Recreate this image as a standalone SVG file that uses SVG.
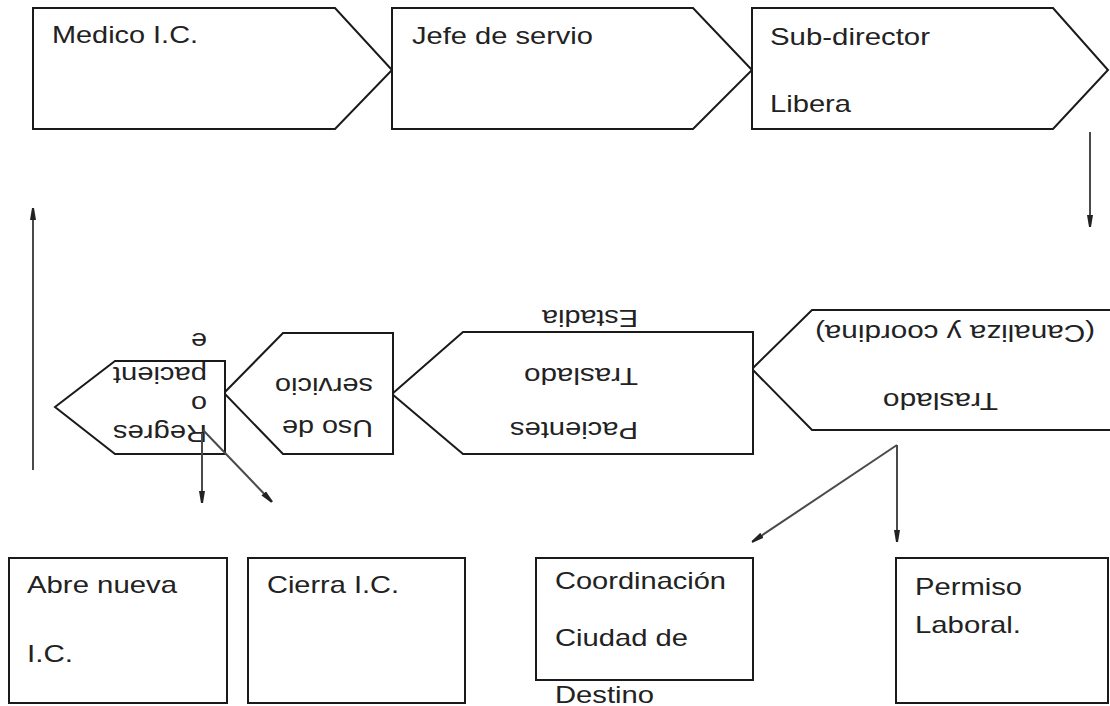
<svg xmlns="http://www.w3.org/2000/svg" width="1110" height="706" viewBox="0 0 1110 706">
  <style>
    .shape { fill: #ffffff; stroke: #1a1a1a; stroke-width: 2; stroke-linejoin: miter; }
    .lbl { font-family: "Liberation Sans", Arial, sans-serif; font-size: 24px; fill: #222222; }
    .conn { fill: none; stroke: #4a4a4a; stroke-width: 2; }
  </style>
  <defs>
    <marker id="head" markerUnits="userSpaceOnUse" markerWidth="12" markerHeight="7" refX="12" refY="3.5" orient="auto">
      <path d="M0,0.5 L12,2.5 L12,4.5 L0,6.5 z" fill="#222222"/>
    </marker>
  </defs>

  <rect x="0" y="0" width="1110" height="706" fill="#ffffff"/>

  <!-- top row: pentagon steps pointing right -->
  <g id="medico">
    <polygon class="shape" points="33,8 335,8 392,70 335,129 33,129"/>
    <text class="lbl" x="52" y="43" textLength="146" lengthAdjust="spacingAndGlyphs">Medico I.C.</text>
  </g>
  <g id="jefe">
    <polygon class="shape" points="392,8 693,8 752,70 693,129 392,129"/>
    <text class="lbl" x="412" y="44" textLength="181" lengthAdjust="spacingAndGlyphs">Jefe de servio</text>
  </g>
  <g id="subdirector">
    <polygon class="shape" points="752,8 1053,8 1108,70 1053,129 752,129"/>
    <text class="lbl" x="770" y="45" textLength="160" lengthAdjust="spacingAndGlyphs">Sub-director</text>
    <text class="lbl" x="770" y="112" textLength="81" lengthAdjust="spacingAndGlyphs">Libera</text>
  </g>

  <!-- middle row: steps pointing left, labels upside down -->
  <g id="traslado">
    <polygon class="shape" points="752,369 812,310 1116,310 1116,430 812,430"/>
    <text class="lbl" x="1095" y="325" transform="rotate(180 1095 325)" textLength="280" lengthAdjust="spacingAndGlyphs">(Canaliza y coordina)</text>
    <text class="lbl" x="998" y="393" transform="rotate(180 998 393)" textLength="115" lengthAdjust="spacingAndGlyphs">Traslado</text>
  </g>
  <g id="pacientes">
    <polygon class="shape" points="392,394 463,332 753,332 753,454 463,454"/>
    <text class="lbl" x="638" y="310" transform="rotate(180 638 310)" textLength="96" lengthAdjust="spacingAndGlyphs">Estadia</text>
    <text class="lbl" x="638" y="368" transform="rotate(180 638 368)" textLength="114" lengthAdjust="spacingAndGlyphs">Traslado</text>
    <text class="lbl" x="638" y="422" transform="rotate(180 638 422)" textLength="128" lengthAdjust="spacingAndGlyphs">Pacientes</text>
  </g>
  <g id="uso">
    <polygon class="shape" points="224,393 283,333 393,333 393,454 283,454"/>
    <text class="lbl" x="373" y="378" transform="rotate(180 373 378)" textLength="98" lengthAdjust="spacingAndGlyphs">servicio</text>
    <text class="lbl" x="373" y="420" transform="rotate(180 373 420)" textLength="91" lengthAdjust="spacingAndGlyphs">Uso de</text>
  </g>
  <g id="regreso">
    <polygon class="shape" points="55,407 115,361 225,361 225,454 115,454"/>
    <text class="lbl" x="207" y="333" transform="rotate(180 207 333)" textLength="16" lengthAdjust="spacingAndGlyphs">e</text>
    <text class="lbl" x="207" y="367" transform="rotate(180 207 367)" textLength="94" lengthAdjust="spacingAndGlyphs">pacient</text>
    <text class="lbl" x="207" y="396" transform="rotate(180 207 396)" textLength="16" lengthAdjust="spacingAndGlyphs">o</text>
    <text class="lbl" x="207" y="425" transform="rotate(180 207 425)" textLength="94" lengthAdjust="spacingAndGlyphs">Regres</text>
  </g>

  <!-- bottom row: outcome boxes -->
  <g id="abre">
    <rect class="shape" x="9" y="558" width="218" height="145"/>
    <text class="lbl" x="27" y="593" textLength="150" lengthAdjust="spacingAndGlyphs">Abre nueva</text>
    <text class="lbl" x="27" y="662" textLength="46" lengthAdjust="spacingAndGlyphs">I.C.</text>
  </g>
  <g id="cierra">
    <rect class="shape" x="248" y="558" width="217" height="145"/>
    <text class="lbl" x="267" y="593" textLength="132" lengthAdjust="spacingAndGlyphs">Cierra I.C.</text>
  </g>
  <g id="coordinacion">
    <rect class="shape" x="536" y="558" width="217" height="122"/>
    <text class="lbl" x="555" y="589" textLength="171" lengthAdjust="spacingAndGlyphs">Coordinación</text>
    <text class="lbl" x="555" y="646" textLength="133" lengthAdjust="spacingAndGlyphs">Ciudad de</text>
    <text class="lbl" x="555" y="703" textLength="99" lengthAdjust="spacingAndGlyphs">Destino</text>
  </g>
  <g id="permiso">
    <rect class="shape" x="896" y="558" width="212" height="145"/>
    <text class="lbl" x="915" y="595" textLength="107" lengthAdjust="spacingAndGlyphs">Permiso</text>
    <text class="lbl" x="915" y="633" textLength="106" lengthAdjust="spacingAndGlyphs">Laboral.</text>
  </g>

  <!-- connectors -->
  <g id="connectors">
    <line class="conn" x1="1090" y1="132" x2="1090" y2="227" marker-end="url(#head)"/>
    <line class="conn" x1="33" y1="470" x2="33" y2="208" marker-end="url(#head)"/>
    <line class="conn" x1="202" y1="433" x2="202" y2="503" marker-end="url(#head)"/>
    <line class="conn" x1="203" y1="430" x2="272" y2="502" marker-end="url(#head)"/>
    <line class="conn" x1="897" y1="445" x2="752" y2="542" marker-end="url(#head)"/>
    <line class="conn" x1="897" y1="445" x2="897" y2="542" marker-end="url(#head)"/>
  </g>
</svg>
